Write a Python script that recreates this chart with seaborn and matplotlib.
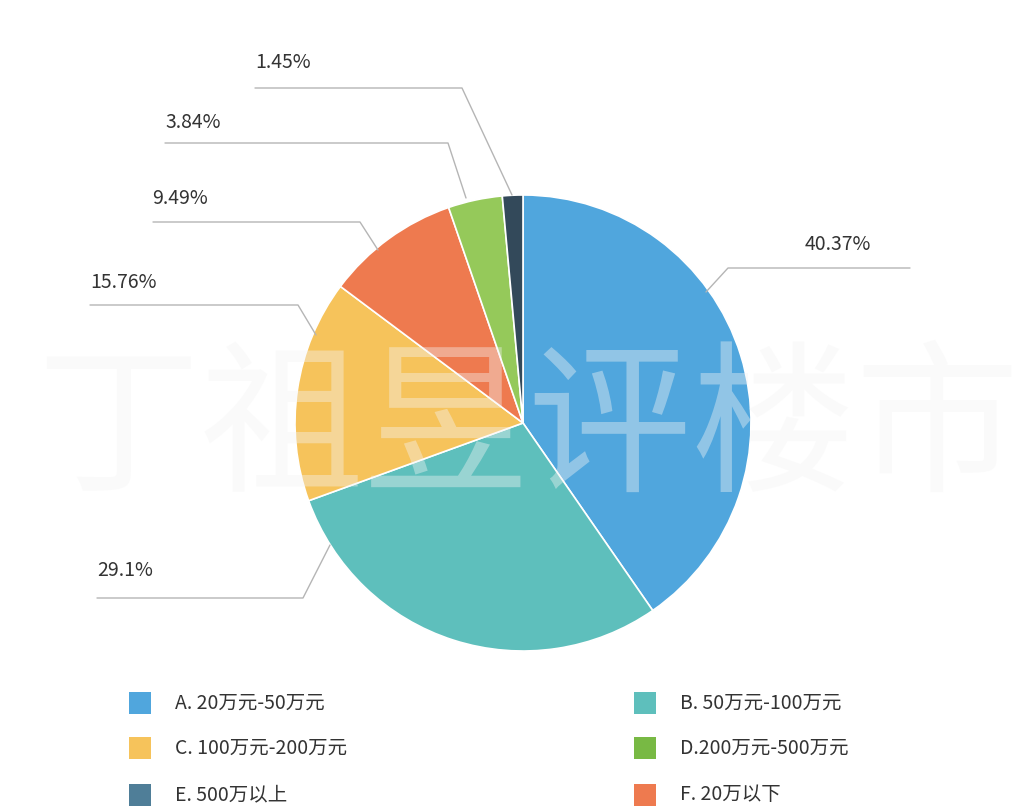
import numpy as np
import matplotlib
matplotlib.use("Agg")
import matplotlib.pyplot as plt
import seaborn as sns

categories = ["A. 20万元-50万元", "B. 50万元-100万元", "C. 100万元-200万元",
              "F. 20万以下", "D.200万元-500万元", "E. 500万以上"]
values = [40.37, 29.1, 15.76, 9.49, 3.84, 1.45]
labels = ["40.37%", "29.1%", "15.76%", "9.49%", "3.84%", "1.45%"]
colors = ["#50A6DD", "#5EBFBC", "#F6C35B", "#EE7A4F", "#95C95A", "#33495A"]
legend_order = [0, 1, 2, 4, 5, 3]
legend_colors = ["#50A6DD", "#5EBFBC", "#F6C35B", "#78B944", "#4F7E98", "#EE7A4F"]

sns.set_theme(style="white")
plt.rcParams['font.family'] = ['Noto Sans CJK SC', 'DejaVu Sans']

W, H = 1024, 810
fig = plt.figure(figsize=(W/100, H/100), dpi=100)
ax = fig.add_axes([0, 0, 1, 1])

cx, cy, r = 523, H-423, 228
wedges, _ = ax.pie(values, colors=colors, startangle=90, counterclock=False,
                   center=(cx, cy), radius=r, frame=True,
                   wedgeprops=dict(edgecolor='white', linewidth=1.2))
ax.set_xlim(0, W); ax.set_ylim(0, H); ax.axis('off'); ax.set_aspect('equal')

elbows = [(728, 268), (303, 598), (298, 305), (360, 222), (448, 143), (462, 88)]
starts = [(706, 292), (330, 545), (316, 335), (378, 250), (466, 198), (512, 195)]
ends = [910, 97, 90, 153, 165, 255]
labpos = [(838, 245), (125, 570), (123, 282), (180, 198), (193, 123), (283, 63)]
for (sx, sy), (ex, ey), xe, (lx, ly), t in zip(starts, elbows, ends, labpos, labels):
    ax.plot([sx, ex, xe], [H-sy, H-ey, H-ey], color='#b5b5b5', lw=1, zorder=1)
    ax.text(lx, H-ly, t, ha='center', va='center', fontsize=14, color='#333333')

ax.text(528, H-432, "丁祖昱评楼市", ha='center', va='center', fontsize=118,
        color='#f4f4f4', alpha=0.4, zorder=5)

pos = [(140, 703), (645, 703), (140, 748), (645, 748), (140, 795), (645, 795)]
for (x, y), i, c in zip(pos, legend_order, legend_colors):
    ax.add_patch(plt.Rectangle((x-11, H-y-11), 22, 22, color=c, lw=0))
    ax.text(x+35, H-y, categories[i], ha='left', va='center', fontsize=14, color='#333333')

fig.savefig("out.png", dpi=100)
